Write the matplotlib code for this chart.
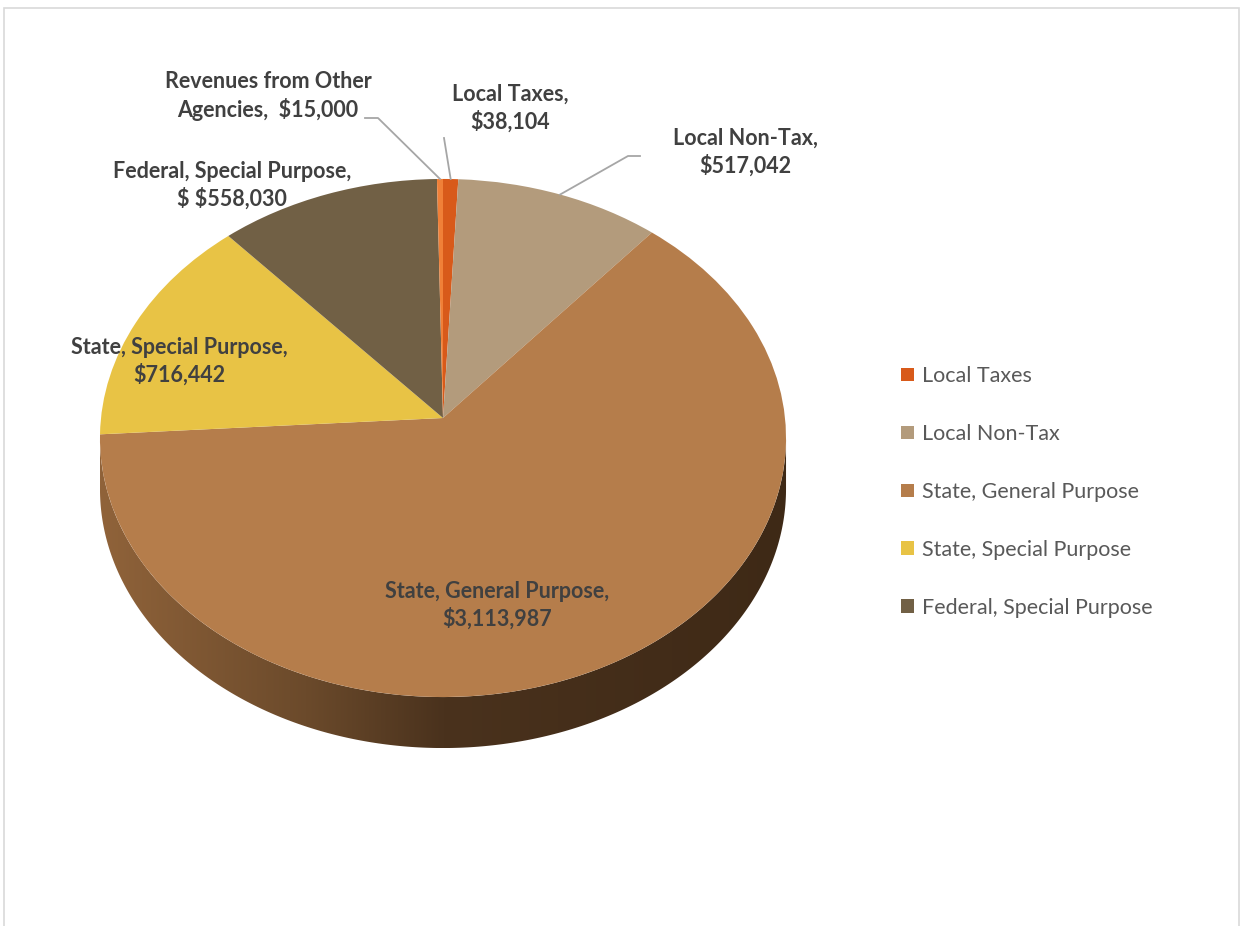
import numpy as np
import matplotlib
matplotlib.use('Agg')
import matplotlib.pyplot as plt
from matplotlib.transforms import Transform
from matplotlib.patches import Polygon, Rectangle
from matplotlib.colors import LinearSegmentedColormap

# data sumber (urutan searah jarum jam mulai dari atas)
nama = ['Local Taxes', 'Local Non-Tax', 'State, General Purpose',
        'State, Special Purpose', 'Federal, Special Purpose',
        'Revenues from Other Agencies']
nilai = [38104, 517042, 3113987, 716442, 558030, 15000]
label_pie = ['Local Taxes,\n$38,104',
             'Local Non-Tax,\n$517,042',
             'State, General Purpose,\n$3,113,987',
             'State, Special Purpose,\n$716,442',
             'Federal, Special Purpose,\n$ $558,030',
             'Revenues from Other\nAgencies,  $15,000']
nama_legend = nama[:5]

warna = ['#D85A1A', '#B39B7C', '#B57D4B', '#E8C345', '#716045', '#F08038']

# posisi label (piksel, tengah blok teks)
pos_label = [(510, 108), (745, 152), (497, 605), (179, 361), (232, 185), (268, 96)]

W, H = 1246, 926
CX, CY = 443, 418      # titik pusat pie (piksel)
SX, SY = 342, 257.5    # skala sumbu
E = 0.0772             # efek perspektif
TEBAL = 51 / SY        # ketebalan sisi 3D


class Miring(Transform):
    input_dims = 2
    output_dims = 2

    def __init__(self, e):
        super().__init__()
        self.e = e

    def transform_non_affine(self, xy):
        xy = np.asarray(xy, dtype=float)
        d = 1 + self.e * xy[:, 1]
        return np.column_stack([xy[:, 0] / d, xy[:, 1] / d])


def px(x, y):
    return ((x - CX) / SX, (CY - y) / SY)


fig = plt.figure(figsize=(W / 100, H / 100), dpi=100)
ax = fig.add_axes([0, 0, 1, 1])
miring = Miring(E)

# sisi 3D (gradasi)
t = np.linspace(np.pi + np.arcsin(E), 2 * np.pi - np.arcsin(E), 300)
tepi = miring.transform(np.column_stack([np.cos(t), np.sin(t)]))
sisi = np.vstack([tepi, tepi[::-1] - [0, TEBAL]])
cmap = LinearSegmentedColormap.from_list(
    'sisi', [(0, '#90633A'), (0.3, '#6B4A2B'), (0.5, '#4A321D'), (1, '#3E2916')])
x0, x1 = sisi[:, 0].min(), sisi[:, 0].max()
y0, y1 = sisi[:, 1].min(), sisi[:, 1].max()
grad = np.linspace(0, 1, 256).reshape(1, -1)
im = ax.imshow(grad, cmap=cmap, extent=[x0, x1, y0, y1], aspect='auto',
               origin='lower', zorder=1, interpolation='bilinear')
klip = Polygon(sisi, closed=True, transform=ax.transData)
im.set_clip_path(klip)

# permukaan atas
wedges, _ = ax.pie(nilai, colors=warna, startangle=90, counterclock=False,
                   wedgeprops=dict(linewidth=0))
for w in wedges:
    w.set_transform(miring + ax.transData)
    w.set_zorder(2)

ax.set_aspect('auto')
ax.set_xlim(-CX / SX, (W - CX) / SX)
ax.set_ylim((CY - H) / SY, CY / SY)
ax.axis('off')

# label data
for teks, (x, y) in zip(label_pie, pos_label):
    ax.text(*px(x, y), teks, ha='center', va='center', fontsize=15.5,
            fontweight='bold', family='Lato', color='#404040',
            linespacing=1.3, zorder=5, parse_math=False)


# garis penunjuk
def ujung(i):
    a = np.deg2rad((wedges[i].theta1 + wedges[i].theta2) / 2)
    return miring.transform(np.array([[np.cos(a), np.sin(a)]]))[0]


penunjuk = {5: [(378, 118), (365, 118)], 0: [(444, 138)], 1: [(628, 156), (640, 156)]}
for i, titik in penunjuk.items():
    p = [ujung(i)] + [px(*q) for q in titik]
    p = np.array(p)
    ax.plot(p[:, 0], p[:, 1], color='#A6A6A6', lw=1.3, zorder=4)

# legenda
fig.legend(wedges[:5], nama_legend, loc='center left',
           bbox_to_anchor=(901 / W, 1 - 492 / H), frameon=False,
           prop=dict(family='Lato', size=15.5), labelcolor='#595959',
           handlelength=0.6, handleheight=0.6, handletextpad=0.38,
           labelspacing=1.76, borderpad=0, borderaxespad=0)

# bingkai
fig.add_artist(Rectangle((4 / W, -0.05), (1239 - 4) / W, 1.05 - 8 / H,
                         fill=False, edgecolor='#D9D9D9', lw=1.2,
                         transform=fig.transFigure))

fig.savefig('out.png', dpi=100)
